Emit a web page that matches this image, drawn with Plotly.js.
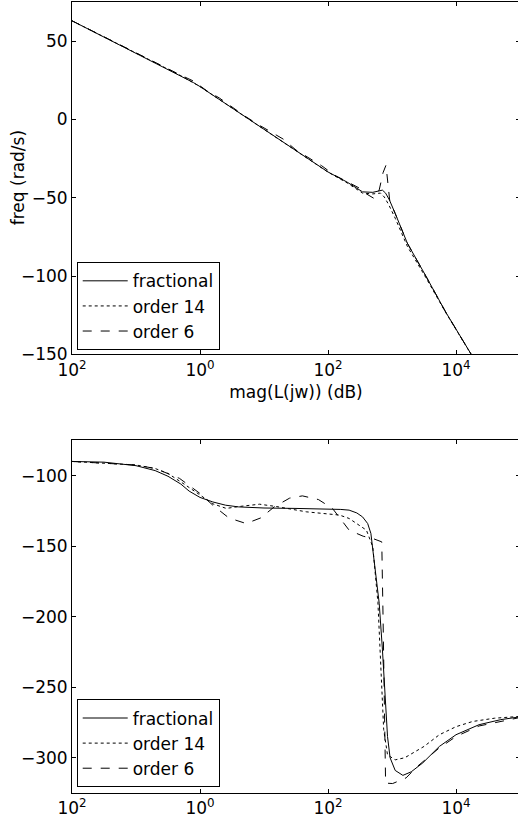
<!DOCTYPE html>
<html>
<head>
<meta charset="utf-8">
<script src="https://cdn.plot.ly/plotly-3.0.1.min.js"></script>
<style>html,body{margin:0;padding:0;background:#fff;overflow:hidden}</style>
</head>
<body>
<div id="chart"></div>
<script>
// ---- Data (x given as log10 of frequency) ----
// Top panel: magnitude
const topFracLogW = [-2, -1.5, -1, -0.5, -0.3, -0.1, 0, 0.5, 1, 1.5, 2, 2.3, 2.54, 2.7, 2.85, 2.9, 2.96, 3.05, 3.24, 3.53, 3.84, 4.23, 4.3];
const topFracMag  = [63, 52.7, 42.4, 32.2, 28, 23.5, 21, 7.5, -6.5, -20, -33.5, -40, -46.2, -46.5, -45.1, -47, -51.4, -60, -79, -100, -123, -149.4, -155];

const top14LogW = [-2, -1, -0.3, 0, 0.5, 1, 1.5, 2, 2.3, 2.54, 2.7, 2.82, 2.88, 2.95, 3.05, 3.24, 3.53, 3.84, 4.23, 4.3];
const top14Mag  = [63, 42.4, 28, 21, 7.3, -6.6, -20.2, -33.6, -40.5, -47, -47.5, -47, -49.5, -54.5, -63, -81, -101, -123.3, -149.5, -155];

const top6LogW = [-2, -1, -0.5, -0.3, -0.1, 0.1, 0.3, 0.5, 0.7, 0.9, 1.1, 1.3, 1.5, 1.7, 1.9, 2.1, 2.3, 2.5, 2.6, 2.72, 2.8, 2.86, 2.906, 2.935, 2.965, 3.05, 3.24, 3.53, 3.84, 4.23, 4.3];
const top6Mag  = [63, 42.4, 32.2, 28.3, 24.5, 18.5, 13.8, 7.8, 2.2, -3, -8, -12.5, -19.5, -24.5, -29.5, -35.5, -39.5, -44, -47.5, -50.4, -45, -34, -29.2, -40, -52, -60, -79, -100, -123, -149.4, -155];

// Bottom panel: phase
const botFracLogW = [-2, -1.5, -1, -0.7, -0.5, -0.3, -0.17, 0, 0.2, 0.4, 0.6, 1, 1.5, 2, 2.2, 2.33, 2.45, 2.54, 2.62, 2.67, 2.72, 2.76, 2.8, 2.85, 2.88, 2.906, 2.93, 2.97, 3.05, 3.17, 3.3, 3.48, 3.74, 4, 4.36, 4.7, 5];
const botFracPh   = [-90, -90.5, -93, -96.5, -100.5, -106, -111, -115.5, -118.7, -121, -122.2, -123, -123.3, -123.6, -124, -124.5, -126.5, -129.3, -134, -141, -160, -175, -190.5, -223, -245, -261, -285, -300, -309, -312.5, -310, -303.7, -292, -283.7, -276.6, -273, -271];

const bot14LogW = [-2, -1, -0.7, -0.5, -0.22, 0, 0.2, 0.41, 0.6, 0.93, 1.2, 1.66, 2, 2.18, 2.33, 2.6, 2.7, 2.78, 2.83, 2.87, 2.93, 3.05, 3.2, 3.5, 3.74, 4, 4.26, 4.6, 5];
const bot14Ph   = [-90, -92.5, -95, -98.5, -106.9, -114, -120, -123.3, -122, -120.3, -122, -125.7, -127, -128, -130.4, -138.7, -150.5, -190, -240, -280, -298, -301.5, -300, -292, -283.7, -278, -274.3, -272, -270.7];

const bot6LogW = [-2, -1, -0.69, -0.32, 0, 0.2, 0.45, 0.72, 0.95, 1.16, 1.4, 1.6, 1.85, 2.07, 2.33, 2.55, 2.7, 2.84, 2.86, 2.88, 2.9, 3.01, 3.22, 3.4, 3.74, 4, 4.36, 5];
const bot6Ph   = [-90, -92.5, -95.1, -102, -112.7, -121, -130, -134, -130, -122.2, -116, -114.4, -117, -123.3, -138.7, -143, -144.6, -147, -200, -280, -318, -318.3, -314.3, -306, -293, -285, -277.5, -271.5];

const seriesNames = ['fractional', 'order 14', 'order 6'];
const xTickVals = [0.01, 1, 100, 10000];
const xTickText = ['10<sup>2</sup>', '10<sup>0</sup>', '10<sup>2</sup>', '10<sup>4</sup>'];

// ---- Build ----
const toW = a => a.map(v => Math.pow(10, v));
const FONT = {family: 'DejaVu Sans, Arial, sans-serif', size: 17, color: '#000'};
const dashes = ['solid', 'dot', 'dash'];

function mk(xs, ys, i, xa, ya, leg) {
  return {x: toW(xs), y: ys, type: 'scatter', mode: 'lines', name: seriesNames[i],
    xaxis: xa, yaxis: ya, legend: leg,
    line: {color: '#000', width: 1, dash: dashes[i]}};
}

const traces = [
  mk(topFracLogW, topFracMag, 0, 'x', 'y', 'legend'),
  mk(top14LogW, top14Mag, 1, 'x', 'y', 'legend'),
  mk(top6LogW, top6Mag, 2, 'x', 'y', 'legend'),
  mk(botFracLogW, botFracPh, 0, 'x2', 'y2', 'legend2'),
  mk(bot14LogW, bot14Ph, 1, 'x2', 'y2', 'legend2'),
  mk(bot6LogW, bot6Ph, 2, 'x2', 'y2', 'legend2')
];

const axBase = {showline: true, linecolor: '#000', linewidth: 1, mirror: 'ticks',
  ticks: 'inside', ticklen: 4, tickcolor: '#000', tickwidth: 1,
  showgrid: false, zeroline: false, tickfont: FONT};

const xBase = Object.assign({}, axBase, {type: 'log', range: [-2, 5],
  tickmode: 'array', tickvals: xTickVals, ticktext: xTickText});

const legBase = {bgcolor: '#fff', bordercolor: '#000', borderwidth: 1,
  font: FONT, xanchor: 'left', yanchor: 'bottom', itemwidth: 45, tracegroupgap: 0};

const layout = {
  width: 520, height: 830,
  margin: {l: 72, r: 0, t: 2, b: 37},
  paper_bgcolor: '#fff', plot_bgcolor: '#fff',
  font: FONT,
  showlegend: true,
  xaxis: Object.assign({}, xBase, {domain: [0, 1], anchor: 'y',
    title: {text: 'mag(L(jw)) (dB)', font: FONT, standoff: 7}}),
  yaxis: Object.assign({}, axBase, {domain: [0.5544, 1], anchor: 'x', range: [-150, 75],
    tickvals: [-150, -100, -50, 0, 50]}),
  xaxis2: Object.assign({}, xBase, {domain: [0, 1], anchor: 'y2'}),
  yaxis2: Object.assign({}, axBase, {domain: [0, 0.4459], anchor: 'x2', range: [-325, -75],
    tickvals: [-300, -250, -200, -150, -100]}),
  legend: Object.assign({}, legBase, {x: 0.0105, y: 0.5597}),
  legend2: Object.assign({}, legBase, {x: 0.0105, y: 0.007}),
  annotations: [{
    text: 'freq (rad/s)', textangle: -90, showarrow: false,
    xref: 'paper', yref: 'paper', x: -0.1205, y: 0.7772,
    xanchor: 'center', yanchor: 'middle', font: FONT
  }]
};

Plotly.newPlot('chart', traces, layout, {displayModeBar: false, staticPlot: true});
</script>
</body>
</html>
